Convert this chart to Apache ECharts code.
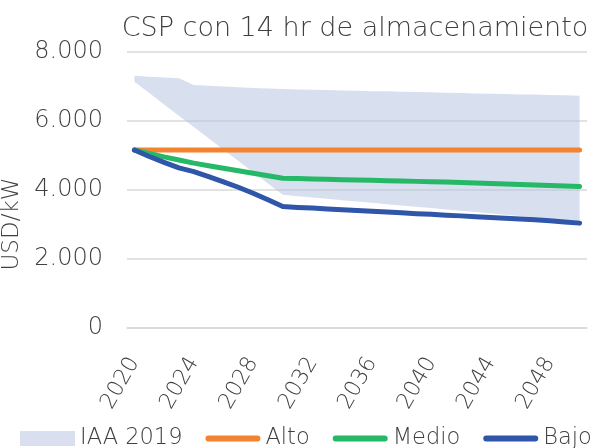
<!DOCTYPE html>
<html>
<head>
<meta charset="utf-8">
<script src="https://cdn.jsdelivr.net/npm/echarts@6/dist/echarts.min.js"></script>
<style>
  html, body { margin: 0; padding: 0; background: #fff; }
  #chart { width: 603px; height: 448px; }
</style>
</head>
<body>
<div id="chart"></div>
<script>
// años 2020..2050
var years = [];
for (var y = 2020; y <= 2050; y++) years.push(String(y));

// USD/kW
var alto = [5160, 5160, 5160, 5160, 5160, 5160, 5160, 5160, 5160, 5160, 5160,
  5160, 5160, 5160, 5160, 5160, 5160, 5160, 5160, 5160, 5160,
  5160, 5160, 5160, 5160, 5160, 5160, 5160, 5160, 5160, 5160];
var medio = [5160, 5060, 4960, 4870, 4780, 4705, 4630, 4560, 4485, 4415, 4340,
  4330, 4320, 4310, 4300, 4290, 4280, 4270, 4260, 4250, 4240,
  4230, 4215, 4200, 4190, 4175, 4160, 4145, 4130, 4115, 4100];
var bajo = [5160, 4970, 4800, 4640, 4533, 4385, 4235, 4080, 3905, 3715, 3520,
  3495, 3475, 3450, 3430, 3405, 3385, 3360, 3340, 3315, 3295,
  3270, 3250, 3225, 3205, 3180, 3160, 3135, 3110, 3075, 3040];
// banda IAA 2019
var iaaMin = [7140, 6810, 6480, 6155, 5825, 5500, 5170, 4845, 4515, 4190, 3860,
  3820, 3780, 3745, 3705, 3665, 3630, 3590, 3550, 3515, 3475,
  3435, 3400, 3360, 3320, 3285, 3245, 3205, 3170, 3130, 3090];
var iaaMax = [7310, 7280, 7260, 7240, 7040, 7020, 7000, 6980, 6960, 6945, 6925,
  6915, 6905, 6895, 6885, 6875, 6865, 6860, 6850, 6840, 6830,
  6820, 6810, 6800, 6790, 6780, 6770, 6765, 6755, 6745, 6735];

var yTicks = [0, 2000, 4000, 6000, 8000];

var iaaRange = iaaMax.map(function (v, i) { return v - iaaMin[i]; });

var font = "DejaVu Sans";
var fw = 200;
var txt = "#404040";
// icono de línea redondeada para la leyenda
var lineIcon = "path://M3,0H53A3,3 0 0 1 53,6H3A3,3 0 0 1 3,0Z";

var chart = echarts.init(document.getElementById("chart"));
chart.setOption({
  animation: false,
  textStyle: { fontFamily: font, fontWeight: fw },
  title: {
    text: "CSP con 14 hr de almacenamiento",
    left: 350,
    textAlign: "center",
    top: 10,
    textStyle: { fontSize: 27, fontWeight: fw, color: txt, fontFamily: font }
  },
  grid: { left: 127, right: 16, top: 52, bottom: 120 },
  legend: {
    left: 20,
    top: 427,
    width: 603,
    padding: 0,
    itemWidth: 55,
    itemHeight: 15,
    itemGap: 23,
    textStyle: { fontSize: 22.5, color: txt, fontWeight: fw, fontFamily: font },
    data: [
      { name: "IAA 2019", icon: "rect" },
      { name: "Alto", icon: lineIcon },
      { name: "Medio", icon: lineIcon },
      { name: "Bajo", icon: lineIcon }
    ]
  },
  graphic: [{
    type: "text",
    x: 1,
    y: 224,
    rotation: Math.PI / 2,
    style: {
      text: "USD/kW",
      fontSize: 23,
      fontWeight: fw,
      fontFamily: font,
      fill: txt,
      textAlign: "center",
      textVerticalAlign: "top"
    }
  }],
  xAxis: {
    type: "category",
    data: years,
    boundaryGap: true,
    axisLine: { lineStyle: { color: "#d9d9d9", width: 1.5 } },
    axisTick: { interval: 0, length: 7, lineStyle: { color: "#d9d9d9" } },
    axisLabel: {
      interval: 3,
      rotate: 60,
      margin: 31,
      fontSize: 22,
      color: txt,
      fontWeight: fw,
      fontFamily: font
    }
  },
  yAxis: {
    type: "value",
    min: yTicks[0],
    max: yTicks[yTicks.length - 1],
    interval: 2000,
    axisLine: { show: false },
    axisTick: { show: false },
    splitLine: { lineStyle: { color: "#d9d9d9", width: 1.5 } },
    axisLabel: {
      margin: 24,
      fontSize: 24,
      color: txt,
      fontWeight: fw,
      fontFamily: font,
      formatter: function (v) {
        return String(v).replace(/\B(?=(\d{3})+(?!\d))/g, ".");
      }
    }
  },
  series: [
    {
      name: "IAA base",
      type: "line",
      stack: "iaa",
      data: iaaMin,
      symbol: "none",
      lineStyle: { opacity: 0 },
      areaStyle: { opacity: 0 },
      silent: true
    },
    {
      name: "IAA 2019",
      type: "line",
      stack: "iaa",
      data: iaaRange,
      symbol: "none",
      color: "#d9dfef",
      lineStyle: { opacity: 0 },
      areaStyle: { color: "rgba(178,192,224,0.5)", opacity: 1 },
      itemStyle: { color: "#d9dfef" }
    },
    {
      name: "Alto",
      type: "line",
      data: alto,
      symbol: "none",
      color: "#f5822f",
      lineStyle: { width: 5, cap: "round", join: "round" }
    },
    {
      name: "Medio",
      type: "line",
      data: medio,
      symbol: "none",
      color: "#25b866",
      lineStyle: { width: 5, cap: "round", join: "round" }
    },
    {
      name: "Bajo",
      type: "line",
      data: bajo,
      symbol: "none",
      color: "#2f56a8",
      lineStyle: { width: 5, cap: "round", join: "round" }
    }
  ]
});
</script>
</body>
</html>
